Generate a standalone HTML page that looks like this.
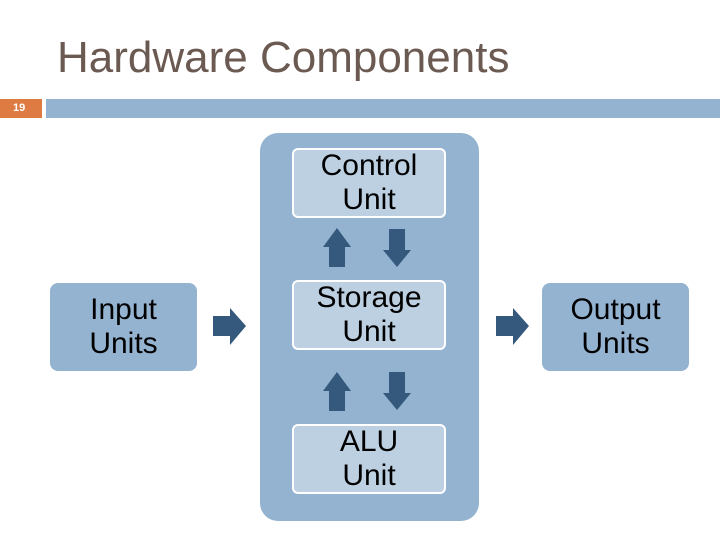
<!DOCTYPE html>
<html><head><style>
body{margin:0;width:720px;height:540px;background:#fff;position:relative;overflow:hidden;font-family:"Liberation Sans",Arial,sans-serif}
.a{position:absolute}
.t{position:absolute;display:flex;align-items:center;justify-content:center;text-align:center;font-size:30px;line-height:34px;color:#000;box-sizing:border-box}
.in{background:#bdd0e2;border:2px solid #fff;border-radius:6px}
.out{background:#94b3d1;border-radius:8px}
</style></head><body>
<div class="a" style="left:57px;top:30px;font-size:44px;color:#6b5a52;line-height:56px">Hardware Components</div>
<div class="a" style="left:0;top:99px;width:42px;height:19px;background:#de7b43;color:#fff;font-size:11px;font-weight:bold;line-height:19px;text-indent:13px">19</div>
<div class="a" style="left:46px;top:99px;width:674px;height:19px;background:#94b3d1"></div>
<div class="a" style="left:260px;top:133px;width:219px;height:388px;background:#94b3d1;border-radius:18px"></div>
<div class="t in" style="left:292px;top:148px;width:154px;height:70px">Control<br>Unit</div>
<div class="t in" style="left:292px;top:280px;width:154px;height:70px">Storage<br>Unit</div>
<div class="t in" style="left:292px;top:424px;width:154px;height:70px">ALU<br>Unit</div>
<div class="t out" style="left:50px;top:283px;width:147px;height:88px">Input<br>Units</div>
<div class="t out" style="left:542px;top:283px;width:147px;height:88px">Output<br>Units</div>
<svg class="a" style="left:0;top:0" width="720" height="540">
<g fill="#34597c">
<polygon points="323,247 329,247 329,267 345,267 345,247 351,247 337,228"/>
<polygon points="389,229 405,229 405,250 411,250 397,267 383,250 389,250"/>
<polygon points="323,391 329,391 329,411 345,411 345,391 351,391 337,372"/>
<polygon points="389,372 405,372 405,393 411,393 397,410 383,393 389,393"/>
<polygon points="213,316 230,316 230,308 246,326 230,345 230,336 213,336"/>
<polygon points="496,316 513,316 513,308 529,326 513,345 513,336 496,336"/>
</g></svg>
</body></html>
